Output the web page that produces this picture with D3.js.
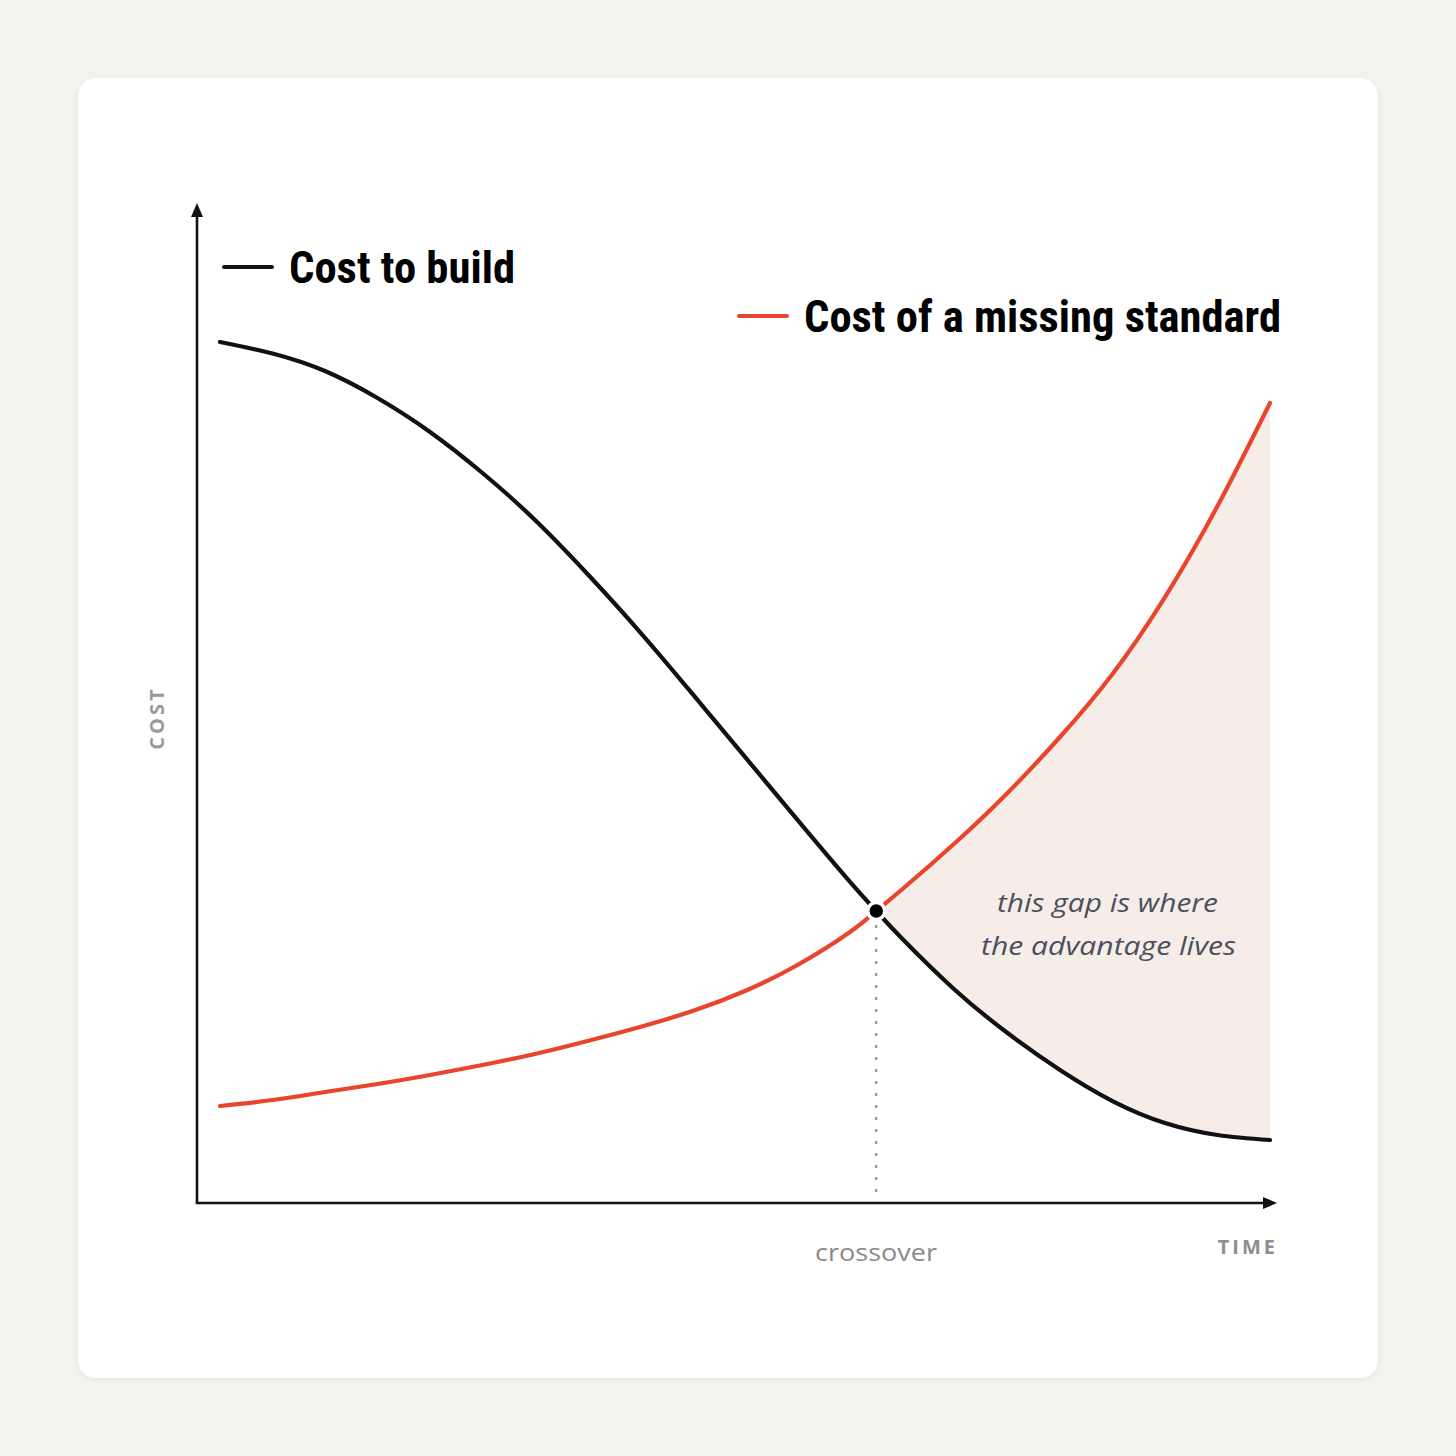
<!DOCTYPE html>
<html>
<head>
<meta charset="utf-8">
<script src="https://cdn.jsdelivr.net/npm/d3@7"></script>
<style>
  html, body { margin: 0; padding: 0; background: #f4f2ee; }
  svg { display: block; }
</style>
</head>
<body>
<svg id="chart" width="1456" height="1456"></svg>
<script>
// ---- data (time 0..10, cost 0..100) ----
const time = [0, 0.5, 1, 1.5, 2, 2.5, 3, 3.5, 4, 4.5, 5, 5.5, 6, 6.25, 6.5, 7, 7.5, 8, 8.5, 9, 9.5, 10];
const costToBuild = [95.67, 94.39, 92.44, 89.44, 85.67, 81.11, 75.89, 69.89, 63.44, 56.56, 49.56, 42.56, 35.67, 32.44, 29.33, 23.67, 18.89, 14.78, 11.33, 8.89, 7.56, 7.0];
const costMissingStandard = [10.78, 11.44, 12.33, 13.22, 14.22, 15.33, 16.56, 18.0, 19.56, 21.33, 23.56, 26.44, 30.11, 32.44, 34.89, 40.0, 45.56, 51.78, 58.78, 67.33, 77.44, 88.89];
const crossover = { t: 6.25, cost: 32.44 };
const seriesNames = ["Cost to build", "Cost of a missing standard"];
const axisLabels = { x: "TIME", y: "COST", crossover: "crossover" };
const annotation = ["this gap is where", "the advantage lives"];

// ---- setup ----
const svg = d3.select("#chart");
const W = 1456, H = 1456;
const black = "#111111", red = "#e8452c";

const x = d3.scaleLinear().domain([0, 10]).range([220, 1270]);
const y = d3.scaleLinear().domain([0, 100]).range([1203, 303]);

const defs = svg.append("defs");
const f = defs.append("filter").attr("id", "shadow").attr("x", "-5%").attr("y", "-5%").attr("width", "110%").attr("height", "110%");
f.append("feDropShadow").attr("dx", 0).attr("dy", 1).attr("stdDeviation", 2).attr("flood-color", "#000").attr("flood-opacity", 0.06);

// background + card
svg.append("rect").attr("width", W).attr("height", H).attr("fill", "#f4f2ee");
svg.append("rect").attr("x", 78).attr("y", 78).attr("width", 1300).attr("height", 1300)
  .attr("rx", 18).attr("fill", "#ffffff").attr("filter", "url(#shadow)");

const blackData = time.map((t, i) => ({ t, v: costToBuild[i] }));
const redData = time.map((t, i) => ({ t, v: costMissingStandard[i] }));
const curve = d3.curveNatural;

// shaded gap area after crossover
const gap = time.map((t, i) => ({ t, hi: costMissingStandard[i], lo: costToBuild[i] }))
  .filter(d => d.t >= crossover.t);
svg.append("path")
  .datum(gap)
  .attr("fill", "#f7ede8")
  .attr("d", d3.area().x(d => x(d.t)).y0(d => y(d.lo)).y1(d => y(d.hi)).curve(curve));

// axes
const originX = 197, originY = y(0);
const axisG = svg.append("g");
axisG.append("line").attr("x1", originX).attr("y1", originY).attr("x2", originX).attr("y2", 214)
  .attr("stroke", black).attr("stroke-width", 2.6);
axisG.append("path").attr("d", `M${originX},203 L${originX - 6},217 L${originX + 6},217 Z`).attr("fill", black);
axisG.append("line").attr("x1", originX - 1.3).attr("y1", originY).attr("x2", 1266).attr("y2", originY)
  .attr("stroke", black).attr("stroke-width", 2.6);
axisG.append("path").attr("d", `M1277,${originY} L1263,${originY - 6} L1263,${originY + 6} Z`).attr("fill", black);

// crossover dotted drop line
svg.append("line")
  .attr("x1", x(crossover.t)).attr("x2", x(crossover.t))
  .attr("y1", y(crossover.cost) + 14).attr("y2", originY - 8)
  .attr("stroke", "#8c8c8c").attr("stroke-width", 2).attr("stroke-dasharray", "3,9");

// curves
const line = d3.line().x(d => x(d.t)).y(d => y(d.v)).curve(curve);
svg.append("path").datum(redData).attr("d", line)
  .attr("fill", "none").attr("stroke", red).attr("stroke-width", 4.2).attr("stroke-linecap", "round");
svg.append("path").datum(blackData).attr("d", line)
  .attr("fill", "none").attr("stroke", black).attr("stroke-width", 4.2).attr("stroke-linecap", "round");

// crossover dot
svg.append("circle").attr("cx", x(crossover.t)).attr("cy", y(crossover.cost)).attr("r", 8.5)
  .attr("fill", "#000").attr("stroke", "#fff").attr("stroke-width", 3.5);

// legends
const legendFont = "'Liberation Sans Narrow', 'Roboto Condensed', 'Arial Narrow', sans-serif";
function legend(lx, ly, color, label, tx, tw) {
  svg.append("line").attr("x1", lx).attr("x2", lx + 48).attr("y1", ly).attr("y2", ly)
    .attr("stroke", color).attr("stroke-width", 4).attr("stroke-linecap", "round");
  svg.append("text").attr("x", tx).attr("y", ly + 16)
    .attr("font-family", legendFont).attr("font-weight", 700).attr("font-size", 44)
    .attr("fill", "#000").attr("textLength", tw).attr("lengthAdjust", "spacingAndGlyphs")
    .text(label);
}
legend(224, 267, black, seriesNames[0], 289, 226);
legend(739, 316, red, seriesNames[1], 804, 477);

// axis labels
svg.append("text")
  .attr("transform", `translate(164,718) rotate(-90)`)
  .attr("text-anchor", "middle")
  .attr("font-family", "'Open Sans', Lato, sans-serif").attr("font-weight", 700)
  .attr("font-size", 20).attr("letter-spacing", 3).attr("fill", "#9a9a9a")
  .text(axisLabels.y);
svg.append("text")
  .attr("x", 1278).attr("y", 1254).attr("text-anchor", "end")
  .attr("font-family", "'Open Sans', Lato, sans-serif").attr("font-weight", 700)
  .attr("font-size", 20).attr("letter-spacing", 3).attr("fill", "#8e8e8e")
  .text(axisLabels.x);
svg.append("text")
  .attr("x", 815).attr("y", 1261)
  .attr("font-family", "'Open Sans', Lato, sans-serif").attr("font-weight", 400)
  .attr("font-size", 24).attr("fill", "#8a8a8a")
  .attr("textLength", 122).attr("lengthAdjust", "spacingAndGlyphs")
  .text(axisLabels.crossover);

// annotation
const annLines = [{ s: annotation[0], x0: 997, w: 221 }, { s: annotation[1], x0: 981, w: 255 }];
annLines.forEach((d, i) => {
  svg.append("text")
    .attr("x", d.x0).attr("y", 912 + i * 43)
    .attr("font-family", "'Open Sans', Lato, sans-serif").attr("font-style", "italic").attr("font-weight", 400)
    .attr("font-size", 26).attr("fill", "#4a505c")
    .attr("textLength", d.w).attr("lengthAdjust", "spacingAndGlyphs")
    .text(d.s);
});
</script>
</body>
</html>
